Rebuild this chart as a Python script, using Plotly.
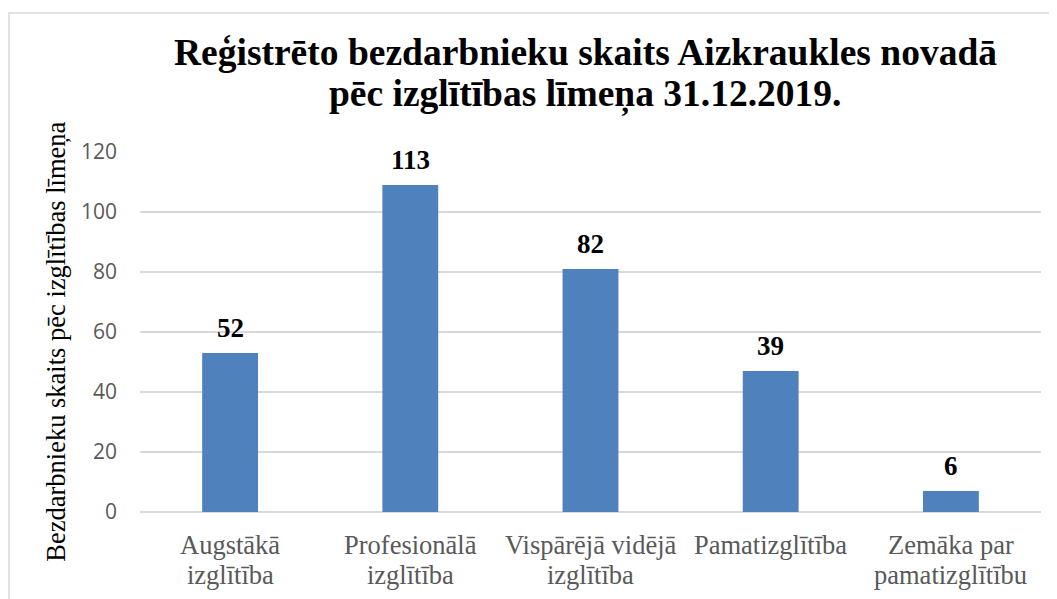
import plotly.graph_objects as go

categories = ["Augstākā izglītība", "Profesionālā izglītība", "Vispārējā vidējā izglītība",
              "Pamatizglītība", "Zemāka par pamatizglītību"]
tick_label_lines = [["Augstākā", "izglītība"], ["Profesionālā", "izglītība"], ["Vispārējā vidējā", "izglītība"],
                    ["Pamatizglītība"], ["Zemāka par", "pamatizglītību"]]
bar_heights = [53, 109, 81, 47, 7]
label_texts = ["52", "113", "82", "39", "6"]
y_ticks = [0, 20, 40, 60, 80, 100, 120]
title_lines = ["Reģistrēto bezdarbnieku skaits Aizkraukles novadā", "pēc izglītības līmeņa 31.12.2019."]
y_title = "Bezdarbnieku skaits pēc izglītības līmeņa"

OFF = 8  # page body margin
W, H = 1057 - OFF, 599 - OFF
L, T = 140 - OFF, 152 - OFF
R = W - (1041 - OFF)
B = H - (512.5 - OFF)
pw, ph = W - L - R, H - T - B

def px_x(x):
    return (x - OFF - L) / pw

def px_y(y):
    return (H - B - (y - OFF)) / ph

fig = go.Figure()
fig.add_trace(go.Bar(x=categories, y=bar_heights, marker=dict(color="#4f81bd", line=dict(width=0)),
                     hoverinfo="skip"))

for c, v, t in zip(categories, bar_heights, label_texts):
    fig.add_annotation(x=c, y=v, text=f"<b>{t}</b>", showarrow=False, yanchor="middle", yshift=25,
                       font=dict(family="Liberation Serif", size=27, color="#000000"))

for c, lines in zip(categories, tick_label_lines):
    for j, line in enumerate(lines):
        fig.add_annotation(x=c, y=0, text=line, showarrow=False, xanchor="center", yanchor="middle",
                           yshift=-(33 + 30 * j),
                           font=dict(family="Liberation Serif", size=26.5, color="#595959"))

for i, line in enumerate(title_lines):
    fig.add_annotation(xref="paper", yref="paper", x=px_x(585), y=px_y([52, 94][i]),
                       text=f"<b>{line}</b>", showarrow=False, xanchor="center", yanchor="middle",
                       font=dict(family="Liberation Serif", size=37.5, color="#000000"))

fig.add_annotation(xref="paper", yref="paper", x=px_x(56), y=px_y(342), text=y_title, textangle=-90,
                   showarrow=False, xanchor="center", yanchor="middle",
                   font=dict(family="Liberation Serif", size=26.5, color="#000000"))

fig.add_shape(type="rect", xref="paper", yref="paper", x0=px_x(9), x1=px_x(1075), y0=px_y(630), y1=px_y(12.7),
              line=dict(color="#d9d9d9", width=1.5), fillcolor="rgba(0,0,0,0)", layer="below")

fig.update_layout(
    width=W, height=H, margin=dict(l=L, r=R, t=T, b=B, pad=0),
    paper_bgcolor="white", plot_bgcolor="white", showlegend=False, bargap=0.69,
    xaxis=dict(showgrid=False, showline=False, ticks="", zeroline=False, showticklabels=False),
    yaxis=dict(range=[0, 120], tickvals=y_ticks, showgrid=True, gridcolor="#d9d9d9", gridwidth=1.5,
               zeroline=True, zerolinecolor="#d9d9d9", zerolinewidth=1.5, showline=False, ticks="",
               ticklabelstandoff=22,
               tickfont=dict(family="Open Sans", size=21, color="#595959")),
)

fig.write_html("out.html")
